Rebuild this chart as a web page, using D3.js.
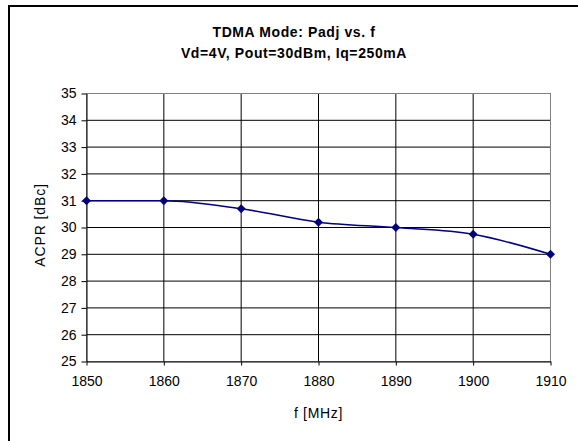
<!DOCTYPE html>
<html>
<head>
<meta charset="utf-8">
<script src="https://cdn.jsdelivr.net/npm/d3@7"></script>
<style>
  body { margin: 0; background: #fff; }
  svg { display: block; font-family: "Liberation Sans", Arial, sans-serif; }
</style>
</head>
<body>
<svg id="chart"></svg>
<script>
// data
var freqs = [1850, 1860, 1870, 1880, 1890, 1900, 1910];
var acpr = [31, 31, 30.7, 30.2, 30.0, 29.75, 29.0];
var xTicks = [1850, 1860, 1870, 1880, 1890, 1900, 1910];
var yTicks = [25, 26, 27, 28, 29, 30, 31, 32, 33, 34, 35];
var titleLines = ["TDMA Mode: Padj vs. f", "Vd=4V, Pout=30dBm, Iq=250mA"];

var width = 578, height = 441;
var margin = {top: 93.5, right: 27.5, bottom: 79.5, left: 86.5};

var svg = d3.select("#chart")
    .attr("width", width)
    .attr("height", height);

// chart area border (only top/left visible in the picture)
svg.append("path")
    .attr("d", "M9,441V6H578")
    .attr("fill", "none")
    .attr("stroke", "#000")
    .attr("stroke-width", 2);

var x = d3.scaleLinear()
    .domain([1850, 1910])
    .range([margin.left, width - margin.right]);

var y = d3.scaleLinear()
    .domain([25, 35])
    .range([height - margin.bottom, margin.top]);

// title
svg.append("g").selectAll("text")
    .data(titleLines)
  .enter().append("text")
    .attr("x", 294)
    .attr("y", function(d, i) { return 37 + i * 21; })
    .attr("text-anchor", "middle")
    .attr("font-size", 14)
    .attr("font-weight", "bold")
    .attr("letter-spacing", 0.6)
    .text(function(d) { return d; });

// grid
svg.append("g")
  .selectAll("line")
  .data(yTicks)
  .enter().append("line")
    .attr("x1", x(1850)).attr("x2", x(1910))
    .attr("y1", function(d) { return y(d); })
    .attr("y2", function(d) { return y(d); })
    .attr("stroke", "#000")
    .attr("stroke-width", 1);

svg.append("g")
  .selectAll("line")
  .data(xTicks)
  .enter().append("line")
    .attr("y1", y(25)).attr("y2", y(35))
    .attr("x1", function(d) { return x(d); })
    .attr("x2", function(d) { return x(d); })
    .attr("stroke", "#000")
    .attr("stroke-width", 1);

// plot area border (gray)
svg.append("rect")
    .attr("x", x(1850)).attr("y", y(35))
    .attr("width", x(1910) - x(1850))
    .attr("height", y(25) - y(35))
    .attr("fill", "none")
    .attr("stroke", "#808080");

// axes
var xAxis = svg.append("g")
    .attr("transform", "translate(0," + y(25) + ")")
    .call(d3.axisBottom(x).tickValues(xTicks).tickFormat(d3.format("d"))
      .tickSizeInner(4).tickSizeOuter(0).tickPadding(11));

var yAxis = svg.append("g")
    .attr("transform", "translate(" + x(1850) + ",0)")
    .call(d3.axisLeft(y).tickValues(yTicks).tickFormat(d3.format("d"))
      .tickSizeInner(5).tickSizeOuter(0).tickPadding(5));

[xAxis, yAxis].forEach(function(a) {
  a.selectAll("text").attr("fill", "#000").attr("font-size", 14)
    .attr("font-family", "Liberation Sans, Arial, sans-serif");
  a.selectAll("line").attr("stroke", "#000");
  a.select(".domain").attr("stroke", "#000");
});

// axis titles
svg.append("text")
    .attr("x", (x(1850) + x(1910)) / 2)
    .attr("y", 418)
    .attr("text-anchor", "middle")
    .attr("font-size", 14)
    .attr("letter-spacing", 0.7)
    .text("f [MHz]");

svg.append("text")
    .attr("transform", "translate(45," + 225 + ") rotate(-90)")
    .attr("text-anchor", "middle")
    .attr("font-size", 14)
    .attr("letter-spacing", 0.9)
    .text("ACPR [dBc]");

// series
var points = freqs.map(function(f, i) { return {f: f, v: acpr[i]}; });

var line = d3.line()
    .x(function(d) { return x(d.f); })
    .y(function(d) { return y(d.v); })
    .curve(d3.curveMonotoneX);

svg.append("path")
    .datum(points)
    .attr("fill", "none")
    .attr("stroke", "#000080")
    .attr("stroke-width", 1.5)
    .attr("d", line);

svg.selectAll(".dot")
    .data(points)
  .enter().append("path")
    .attr("class", "dot")
    .attr("fill", "#000080")
    .attr("transform", function(d) { return "translate(" + x(d.f) + "," + y(d.v) + ")"; })
    .attr("d", "M0,-4.5L4.5,0L0,4.5L-4.5,0Z");
</script>
</body>
</html>
